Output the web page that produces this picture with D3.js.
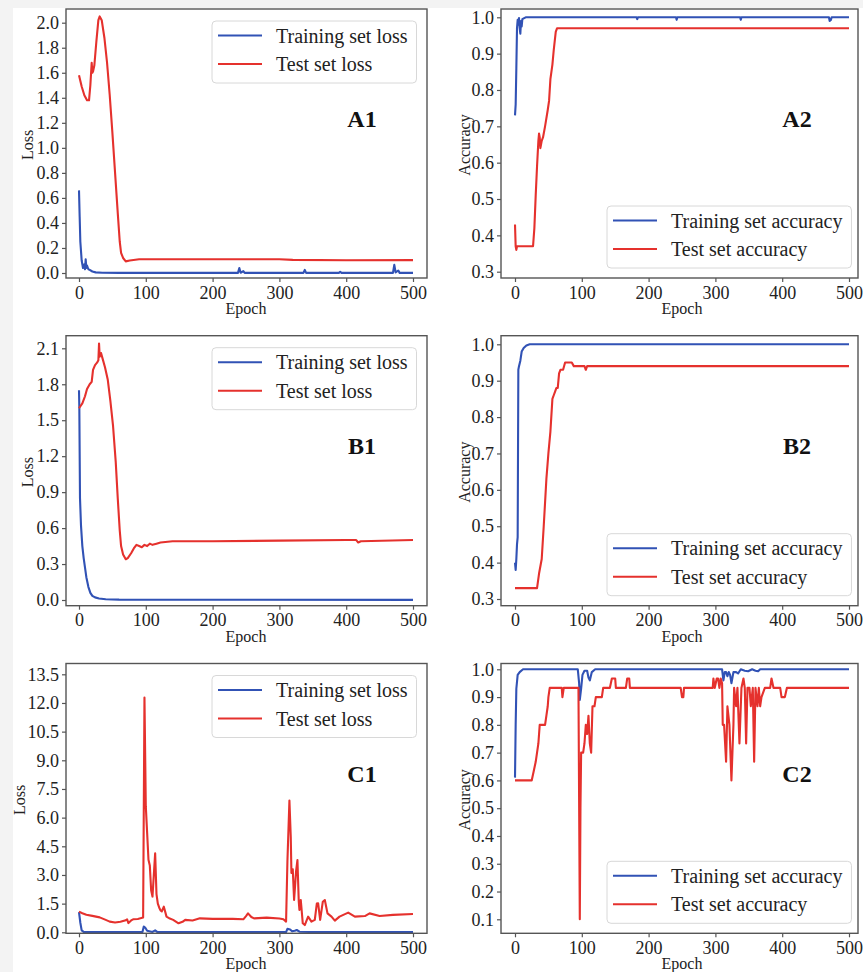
<!DOCTYPE html>
<html>
<head>
<meta charset="utf-8">
<script src="https://cdn.jsdelivr.net/npm/d3@7"></script>
<style>
body { margin: 0; background: #f3f3f3; }
svg { display: block; }
text { font-family: "Liberation Serif", "Times New Roman", serif; }
</style>
</head>
<body>
<svg id="chart"></svg>
<script>
width = 863
height = 972

// ---- data as [epoch, value] ----
let epochTicks = [0, 100, 200, 300, 400, 500]
let lossNames = ["Training set loss", "Test set loss"]
let accNames = ["Training set accuracy", "Test set accuracy"]

let a1Ticks = [0.0, 0.2, 0.4, 0.6, 0.8, 1.0, 1.2, 1.4, 1.6, 1.8, 2.0]
let a2Ticks = [0.3, 0.4, 0.5, 0.6, 0.7, 0.8, 0.9, 1.0]
let b1Ticks = [0.0, 0.3, 0.6, 0.9, 1.2, 1.5, 1.8, 2.1]
let b2Ticks = [0.3, 0.4, 0.5, 0.6, 0.7, 0.8, 0.9, 1.0]
let c1Ticks = [0.0, 1.5, 3.0, 4.5, 6.0, 7.5, 9.0, 10.5, 12.0, 13.5]
let c2Ticks = [0.1, 0.2, 0.3, 0.4, 0.5, 0.6, 0.7, 0.8, 0.9, 1.0]

let a1Train = [[0,0.66],[1,0.45],[2,0.25],[4,0.1],[6,0.04],[8,0.07],[9,0.03],[10,0.11],[11,0.04],[12,0.06],[14,0.03],[16,0.025],[20,0.012],[25,0.005],[35,0.002],[60,0.001],[238,0.001],[240,0.04],[242,0.002],[246,0.015],[248,0.001],[336,0.001],[338,0.025],[340,0.001],[389,0.001],[391,0.01],[393,0.001],[470,0.001],[472,0.065],[474,0.005],[478,0.02],[480,0.001],[500,0.001]]
let a1Test = [[0,1.58],[4,1.49],[8,1.42],[12,1.38],[15,1.38],[17,1.5],[19,1.68],[20,1.6],[21,1.61],[23,1.66],[26,1.85],[29,2.02],[31,2.05],[34,2.02],[38,1.88],[42,1.68],[46,1.42],[50,1.12],[54,0.8],[58,0.48],[61,0.25],[63,0.16],[66,0.12],[70,0.093],[76,0.1],[90,0.11],[150,0.11],[300,0.11],[320,0.105],[400,0.102],[500,0.103]]

let a2Train = [[0,0.73],[1,0.76],[2,0.86],[3,0.97],[4,0.993],[5,0.98],[6,0.998],[7,0.97],[8,0.955],[9,0.99],[10,0.975],[11,0.995],[13,0.997],[16,1.0],[182,1.0],[183,0.995],[184,1.0],[241,1.0],[242,0.993],[243,1.0],[337,1.0],[338,0.993],[339,1.0],[470,1.0],[471,0.99],[473,0.993],[474,1.0],[500,1.0]]
let a2Test = [[0,0.43],[1,0.37],[2,0.36],[3,0.37],[27,0.37],[29,0.42],[31,0.51],[33,0.59],[35,0.66],[36,0.68],[37,0.67],[38,0.64],[40,0.66],[42,0.67],[45,0.7],[49,0.745],[51,0.77],[53,0.83],[56,0.87],[58,0.91],[61,0.96],[63,0.97],[500,0.97]]

let b1Train = [[0,1.75],[0.5,1.6],[1.5,0.85],[3,0.62],[5,0.45],[7,0.35],[9,0.27],[11,0.19],[14,0.11],[17,0.06],[20,0.035],[24,0.022],[30,0.013],[40,0.006],[60,0.003],[100,0.002],[500,0.001]]
let b1Test = [[0,1.6],[5,1.64],[9,1.7],[12,1.76],[16,1.8],[19,1.82],[21,1.92],[24,1.96],[27,1.98],[29,2.0],[30,2.14],[31,2.03],[33,2.06],[35,2.02],[39,1.94],[43,1.84],[47,1.66],[51,1.45],[55,1.15],[58,0.85],[61,0.58],[63,0.45],[66,0.38],[70,0.34],[73,0.35],[78,0.39],[82,0.43],[86,0.46],[90,0.45],[94,0.44],[98,0.46],[102,0.45],[106,0.47],[110,0.46],[116,0.47],[122,0.48],[140,0.49],[200,0.49],[300,0.495],[400,0.5],[415,0.5],[418,0.48],[422,0.49],[500,0.5]]

let b2Train = [[0,0.4],[1,0.38],[2,0.41],[3,0.45],[4,0.47],[5,0.93],[6,0.94],[8,0.955],[10,0.98],[13,0.99],[17,0.997],[22,1.0],[500,1.0]]
let b2Test = [[0,0.33],[33,0.33],[36,0.37],[40,0.41],[43,0.5],[47,0.63],[50,0.7],[53,0.76],[56,0.85],[58,0.86],[60,0.87],[62,0.88],[64,0.88],[66,0.92],[68,0.93],[72,0.93],[75,0.95],[85,0.95],[88,0.94],[104,0.94],[106,0.93],[108,0.94],[500,0.94]]

let c1Train = [[0,1.05],[2,0.5],[4,0.1],[7,0.02],[10,0.01],[95,0.01],[97,0.3],[99,0.25],[102,0.08],[110,0.02],[114,0.1],[117,0.02],[150,0.01],[310,0.01],[312,0.18],[316,0.15],[319,0.05],[323,0.08],[326,0.12],[330,0.03],[360,0.01],[500,0.01]]
let c1Test = [[0,1.08],[5,1.0],[11,0.92],[20,0.86],[31,0.78],[40,0.65],[46,0.56],[54,0.51],[62,0.55],[70,0.63],[72,0.68],[74,0.48],[78,0.62],[81,0.68],[88,0.7],[96,0.77],[98,12.28],[100,6.6],[102,5.2],[104,3.8],[106,3.5],[108,2.2],[110,1.87],[112,3.0],[114,4.13],[116,2.0],[118,1.5],[120,1.3],[122,1.15],[124,1.1],[127,1.34],[131,0.82],[136,0.72],[141,0.65],[149,0.47],[155,0.55],[159,0.65],[170,0.62],[181,0.73],[200,0.7],[230,0.7],[246,0.68],[250,0.85],[253,0.99],[258,0.8],[262,0.73],[281,0.77],[300,0.72],[306,0.68],[310,0.56],[312,3.7],[315,6.9],[317,5.0],[318,3.1],[320,3.3],[322,1.69],[325,3.2],[327,3.78],[329,1.6],[330,1.17],[332,1.69],[335,0.47],[338,0.38],[343,0.82],[348,0.56],[353,0.65],[356,1.5],[358,1.52],[361,0.65],[365,1.6],[368,1.69],[372,0.99],[378,0.82],[383,0.61],[390,0.82],[403,1.03],[413,0.82],[428,0.85],[435,0.99],[450,0.85],[470,0.91],[500,0.96]]

let c2Train = [[0,0.61],[1,0.8],[2,0.93],[4,0.98],[7,0.99],[12,1.0],[94,1.0],[96,0.95],[97,0.89],[99,0.93],[101,0.98],[104,0.995],[108,0.995],[110,0.97],[112,0.96],[115,0.99],[120,1.0],[310,1.0],[312,0.96],[314,0.99],[316,0.99],[318,0.975],[320,0.99],[322,0.98],[324,0.95],[327,0.99],[331,0.99],[334,0.985],[338,1.0],[344,0.995],[349,0.993],[355,1.0],[360,0.995],[364,0.993],[367,1.0],[500,1.0]]
let c2Test = [[0,0.6],[25,0.6],[28,0.633],[31,0.667],[33,0.7],[35,0.733],[37,0.8],[45,0.8],[47,0.833],[49,0.867],[50,0.9],[52,0.933],[70,0.933],[71,0.9],[73,0.933],[95,0.933],[97,0.1],[98,0.5],[99,0.7],[102,0.7],[104,0.733],[106,0.8],[108,0.767],[110,0.833],[112,0.733],[114,0.7],[116,0.867],[119,0.867],[121,0.9],[130,0.9],[132,0.933],[142,0.933],[145,0.967],[150,0.967],[151,0.933],[166,0.933],[168,0.967],[171,0.967],[172,0.933],[248,0.933],[250,0.9],[252,0.9],[253,0.933],[296,0.933],[297,0.967],[299,0.933],[302,0.967],[304,0.967],[306,0.933],[308,0.967],[310,0.95],[311,0.8],[313,0.8],[316,0.667],[318,0.867],[321,0.8],[324,0.6],[327,0.8],[328,0.933],[331,0.867],[333,0.933],[336,0.733],[339,0.933],[342,0.967],[344,0.933],[346,0.733],[348,0.933],[351,0.933],[353,0.867],[356,0.933],[358,0.667],[360,0.933],[363,0.867],[365,0.933],[367,0.867],[369,0.9],[374,0.933],[382,0.933],[384,0.967],[387,0.933],[397,0.933],[399,0.9],[404,0.9],[407,0.933],[500,0.933]]

// ---- layout ----
let blue = "#3152b5"
let red = "#e5312d"
let axisColor = "#555"

let cols = [
	{box: [66, 427], x: [79, 413], ylabelX: 27.5},
	{box: [501, 858], x: [515, 849], ylabelX: 464}
]
let rows = [[9, 278], [335.7, 605.7], [663.5, 933.3]]

let panels = [
	{label: "A1", col: 0, row: 0, ticks: a1Ticks, yr: [273, 22.7], ylabel: "Loss", names: lossNames, train: a1Train, test: a1Test},
	{label: "A2", col: 1, row: 0, ticks: a2Ticks, yr: [271.7, 17.3], ylabel: "Accuracy", names: accNames, train: a2Train, test: a2Test},
	{label: "B1", col: 0, row: 1, ticks: b1Ticks, yr: [600, 348.3], ylabel: "Loss", names: lossNames, train: b1Train, test: b1Test},
	{label: "B2", col: 1, row: 1, ticks: b2Ticks, yr: [599, 344.3], ylabel: "Accuracy", names: accNames, train: b2Train, test: b2Test},
	{label: "C1", col: 0, row: 2, ticks: c1Ticks, yr: [932.3, 674.3], ylabel: "Loss", names: lossNames, train: c1Train, test: c1Test, ylabelX: 19},
	{label: "C2", col: 1, row: 2, ticks: c2Ticks, yr: [919.3, 669.3], ylabel: "Accuracy", names: accNames, train: c2Train, test: c2Test}
]

let svg = d3.select("#chart")
	.attr("width", width)
	.attr("height", height)

svg.append("rect")
	.attr("x", 13)
	.attr("y", 8)
	.attr("width", width - 13)
	.attr("height", height - 8)
	.attr("fill", "#ffffff")

panels.forEach(p => {
	let col = cols[p.col]
	let bx0 = col.box[0], bx1 = col.box[1]
	let by0 = rows[p.row][0], by1 = rows[p.row][1]

	let x = d3.scaleLinear().domain([0, 500]).range(col.x)
	let y = d3.scaleLinear().domain([p.ticks[0], p.ticks[p.ticks.length - 1]]).range(p.yr)

	let g = svg.append("g")

	let line = d3.line()
		.x(d => x(d[0]))
		.y(d => y(d[1]))

	g.append("path")
		.datum(p.train)
		.attr("d", line)
		.attr("fill", "none")
		.attr("stroke", blue)
		.attr("stroke-width", 2.1)
		.attr("stroke-linejoin", "round")

	g.append("path")
		.datum(p.test)
		.attr("d", line)
		.attr("fill", "none")
		.attr("stroke", red)
		.attr("stroke-width", 2.1)
		.attr("stroke-linejoin", "round")

	// frame
	g.append("rect")
		.attr("x", bx0)
		.attr("y", by0)
		.attr("width", bx1 - bx0)
		.attr("height", by1 - by0)
		.attr("fill", "none")
		.attr("stroke", axisColor)
		.attr("stroke-width", 1.4)

	let xAxis = g.append("g")
		.attr("transform", "translate(0," + by1 + ")")
		.call(d3.axisBottom(x).tickValues(epochTicks).tickSize(4).tickPadding(4))
	let yAxis = g.append("g")
		.attr("transform", "translate(" + bx0 + ",0)")
		.call(d3.axisLeft(y).tickValues(p.ticks).tickFormat(d3.format(".1f")).tickSize(4).tickPadding(3))

	;[xAxis, yAxis].forEach(a => {
		a.attr("font-family", "'Liberation Serif', serif").attr("font-size", 18)
		a.select(".domain").remove()
		a.selectAll(".tick line").attr("stroke", axisColor).attr("stroke-width", 1.2)
		a.selectAll(".tick text").attr("fill", "#222")
	})

	// axis titles
	g.append("text")
		.attr("x", (col.x[0] + col.x[1]) / 2)
		.attr("y", by1 + 36)
		.attr("text-anchor", "middle")
		.attr("font-size", 16)
		.attr("fill", "#222")
		.text("Epoch")

	let lx = p.ylabelX || col.ylabelX
	let ly = (by0 + by1) / 2 + 1.5
	g.append("text")
		.attr("transform", "translate(" + lx + "," + ly + ") rotate(-90)")
		.attr("text-anchor", "middle")
		.attr("dy", "0.35em")
		.attr("font-size", 16)
		.attr("fill", "#222")
		.text(p.ylabel)

	// panel label
	g.append("text")
		.attr("x", bx0 + 296)
		.attr("y", by0 + 118)
		.attr("text-anchor", "middle")
		.attr("font-size", 24)
		.attr("font-weight", "bold")
		.attr("fill", "#111")
		.text(p.label)

	// legend
	let isLoss = p.names === lossNames
	let legX = isLoss ? bx0 + 146 : bx0 + 106
	let legY = isLoss ? by0 + 12 : by1 - 72
	let legend = g.append("g").attr("transform", "translate(" + legX + "," + legY + ")")
	let box = legend.append("rect")
		.attr("height", 62)
		.attr("rx", 4)
		.attr("fill", "#fff")
		.attr("stroke", "#d8d8d8")
		.attr("stroke-width", 1)
	let maxW = 0
	p.names.forEach((name, i) => {
		let ry = 14.5 + i * 28.5
		legend.append("line")
			.attr("x1", 6)
			.attr("x2", 50)
			.attr("y1", ry)
			.attr("y2", ry)
			.attr("stroke", i == 0 ? blue : red)
			.attr("stroke-width", 2.1)
		let t = legend.append("text")
			.attr("x", 64)
			.attr("y", ry)
			.attr("dy", "0.35em")
			.attr("font-size", 20)
			.attr("fill", "#222")
			.text(name)
		maxW = Math.max(maxW, t.node().getComputedTextLength())
	})
	box.attr("width", 64 + maxW + 9)
})
</script>
</body>
</html>
